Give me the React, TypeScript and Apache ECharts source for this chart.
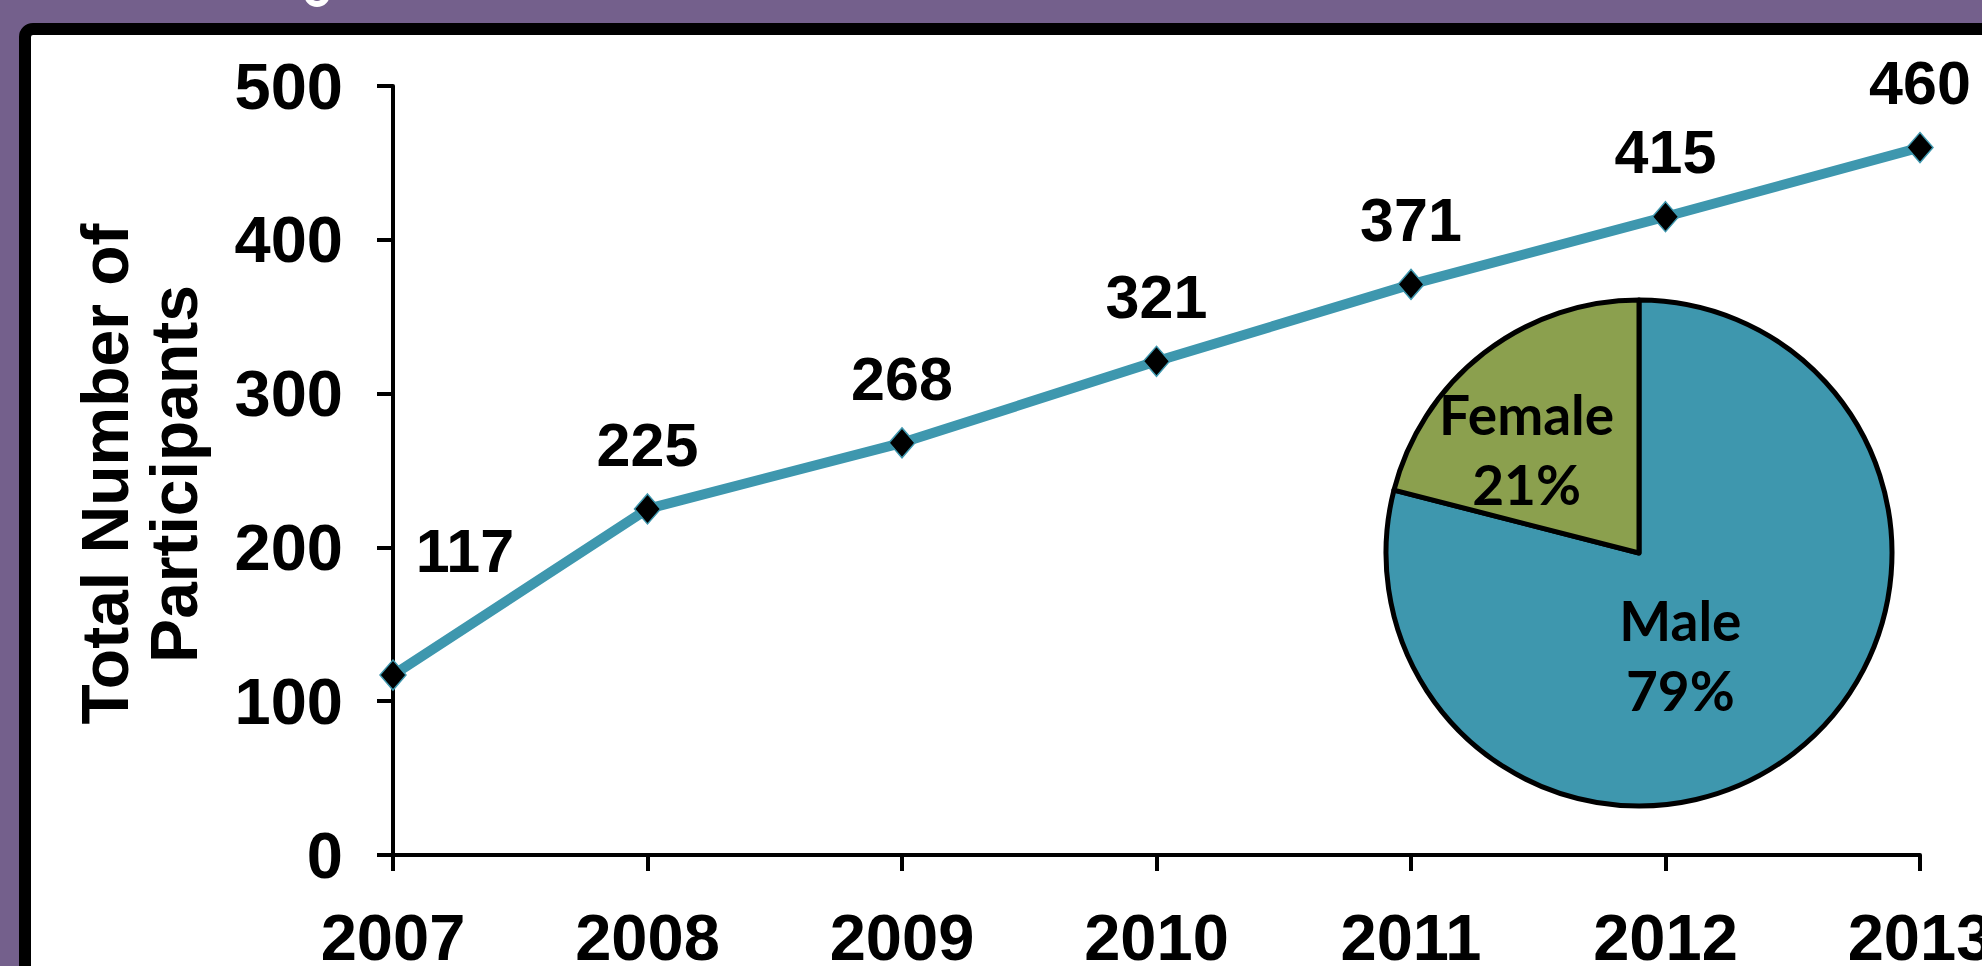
import React, { useEffect, useRef } from "react";
import * as echarts from "echarts";

const years = ["2007", "2008", "2009", "2010", "2011", "2012", "2013"];
const participants = [117, 225, 268, 321, 371, 415, 460];
const genderNames = ["Male", "Female"];
const genderShares = [79, 21];
const yTicks = { min: 0, max: 500, interval: 100 };
const yTitle = "Total Number of\nParticipants";

const TEAL = "#3E97AE";
const OLIVE = "#8BA04E";
const PURPLE = "#74608C";
const AXIS_FONT = "Liberation Sans, Arial, sans-serif";

export default function App() {
  const ref = useRef<HTMLDivElement>(null);
  useEffect(() => {
    if (!ref.current) return;
    const chart = echarts.init(ref.current, null, { renderer: "svg" });
    chart.setOption({
      animation: false,
      backgroundColor: PURPLE,
      graphic: [
        {
          type: "rect",
          z: -100,
          shape: { x: 25, y: 29, width: 2100, height: 1100, r: 8 },
          style: { fill: "#ffffff", stroke: "#000000", lineWidth: 12 },
        },
        {
          type: "arc",
          z: -90,
          shape: { cx: 317, cy: -6, r: 10, startAngle: 0, endAngle: Math.PI },
          style: { stroke: "#ffffff", lineWidth: 6, fill: "none" },
        },
        {
          type: "text",
          x: 139,
          y: 474,
          rotation: Math.PI / 2,
          style: {
            text: yTitle,
            align: "center",
            verticalAlign: "middle",
            fontFamily: AXIS_FONT,
            fontWeight: "bold",
            fontSize: 66,
            lineHeight: 69,
            fill: "#000000",
          },
        },
      ],
      grid: {
        left: 393,
        right: 62,
        top: 86,
        bottom: 111,
        containLabel: false,
        outerBoundsMode: "none",
      },
      xAxis: {
        type: "category",
        data: years,
        boundaryGap: false,
        axisLine: { lineStyle: { color: "#000", width: 4 } },
        axisTick: { show: true, inside: false, length: 16, alignWithLabel: true, lineStyle: { color: "#000", width: 4 } },
        axisLabel: {
          margin: 57,
          color: "#000",
          fontFamily: AXIS_FONT,
          fontWeight: "bold",
          fontSize: 65,
          lineHeight: 50,
          interval: 0,
        },
        splitLine: { show: false },
      },
      yAxis: {
        type: "value",
        min: yTicks.min,
        max: yTicks.max,
        interval: yTicks.interval,
        axisLine: { show: true, lineStyle: { color: "#000", width: 4 } },
        axisTick: { show: true, inside: false, length: 16, lineStyle: { color: "#000", width: 4 } },
        axisLabel: {
          margin: 50,
          color: "#000",
          fontFamily: AXIS_FONT,
          fontWeight: "bold",
          fontSize: 65,
        },
        splitLine: { show: false },
      },
      series: [
        {
          type: "line",
          data: participants.map((v, i) =>
            i === 0
              ? { value: v, label: { offset: [72, -60] } }
              : v
          ),
          symbol: "diamond",
          symbolSize: [26, 30],
          lineStyle: { color: TEAL, width: 10 },
          itemStyle: { color: "#000", borderColor: TEAL, borderWidth: 1.5 },
          label: {
            show: true,
            position: "top",
            distance: 18,
            color: "#000",
            fontFamily: AXIS_FONT,
            fontWeight: "bold",
            fontSize: 61,
          },
          z: 3,
        },
        {
          type: "pie",
          center: [1639, 553],
          radius: 253,
          startAngle: 90,
          clockwise: true,
          data: genderNames.map((n, i) => ({
            name: n,
            value: genderShares[i],
            itemStyle: { color: i === 0 ? TEAL : OLIVE },
            label: { offset: i === 0 ? [-38, 0] : [-33, -2] },
          })),
          itemStyle: { borderColor: "#000", borderWidth: 5 },
          label: {
            show: true,
            position: "inside",
            formatter: (p: any) => `${p.name}\n${p.value}%`,
            color: "#000",
            fontFamily: "Lato, sans-serif",
            fontWeight: "bold",
            fontSize: 55,
            lineHeight: 70,
          },
          labelLine: { show: false },
          z: 5,
        },
      ],
    });
    return () => chart.dispose();
  }, []);
  return (
    <div
      ref={ref}
      style={{ position: "absolute", left: 0, top: 0, width: 1982, height: 966 }}
    />
  );
}
